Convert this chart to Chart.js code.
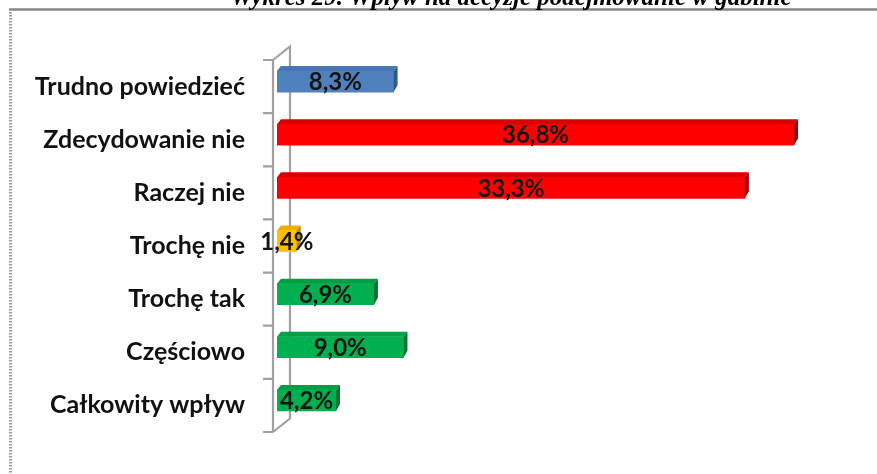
<!DOCTYPE html>
<html><head><meta charset="utf-8">
<script src="https://cdn.jsdelivr.net/npm/chart.js@4/dist/chart.umd.min.js"></script>
<style>html,body{margin:0;padding:0;background:#fff;}canvas{display:block;}</style>
</head><body>
<canvas id="c" width="877" height="474"></canvas>
<script>
const titleText = 'Wykres 29. Wpływ na decyzje podejmowanie w gabinie';
const categories = ['Trudno powiedzieć','Zdecydowanie nie','Raczej nie','Trochę nie','Trochę tak','Częściowo','Całkowity wpływ'];
const values = [8.3, 36.8, 33.3, 1.4, 6.9, 9.0, 4.2];
const valueLabels = ['8,3%','36,8%','33,3%','1,4%','6,9%','9,0%','4,2%'];

const palette = {
  blue:   {front:'#4F81BD', top:'#4677B4', side:'#2F5A8F'},
  red:    {front:'#FF0000', top:'#D80000', side:'#A00000'},
  yellow: {front:'#FFC000', top:'#ECAE00', side:'#B88A00'},
  green:  {front:'#00B050', top:'#009E46', side:'#007633'}
};
const colorKeys = ['blue','red','red','yellow','green','green','green'];

const DEPTH = {dx:4, dy:-5};
const WALL = {dx:17, dy:-13.5, shift:5};

const threeD = {
  id:'threeD',
  beforeDraw(chart){
    const ctx = chart.ctx;
    ctx.save();
    ctx.fillStyle = '#fff';
    ctx.fillRect(0,0,chart.width,chart.height);
    ctx.strokeStyle = '#858585';
    ctx.lineWidth = 2.5;
    ctx.beginPath(); ctx.moveTo(9,9.5); ctx.lineTo(chart.width,9.5); ctx.stroke();
    ctx.strokeStyle = '#9a9a9a';
    ctx.lineWidth = 3;
    ctx.setLineDash([1.5,1.5]);
    ctx.beginPath(); ctx.moveTo(10.5,9); ctx.lineTo(10.5,chart.height); ctx.stroke();
    ctx.setLineDash([]);
    ctx.fillStyle = '#000';
    ctx.font = 'italic bold 25px "Liberation Serif"';
    ctx.textAlign = 'center';
    ctx.textBaseline = 'alphabetic';
    ctx.fillText(titleText, 511, 5);
    ctx.restore();
  },
  beforeDatasetsDraw(chart){
    const ctx = chart.ctx, a = chart.chartArea;
    const fx = a.left - 4, bx = fx + WALL.dx;
    const top = a.top + WALL.shift, bot = a.bottom + WALL.shift;
    ctx.save();
    ctx.strokeStyle = '#a0a0a0';
    ctx.lineWidth = 2.2;
    ctx.beginPath();
    ctx.moveTo(fx, top); ctx.lineTo(fx, bot);
    ctx.moveTo(fx, top); ctx.lineTo(bx, top + WALL.dy);
    ctx.lineTo(bx, bot + WALL.dy);
    ctx.lineTo(fx, bot);
    const n = categories.length;
    const step = (a.bottom - a.top) / n;
    for (let i = 0; i <= n; i++) {
      const y = a.top + i*step + WALL.shift;
      ctx.moveTo(fx - 10, y); ctx.lineTo(fx, y);
    }
    ctx.stroke();
    ctx.restore();
  },
  afterDatasetsDraw(chart){
    const ctx = chart.ctx;
    const meta = chart.getDatasetMeta(0);
    ctx.save();
    meta.data.forEach((bar, i) => {
      const p = palette[colorKeys[i]];
      const {x, y, base, height} = bar.getProps(['x','y','base','height'], true);
      const t = y - height/2, b = y + height/2;
      ctx.fillStyle = p.top;
      ctx.beginPath();
      ctx.moveTo(base, t); ctx.lineTo(x, t); ctx.lineTo(x + DEPTH.dx, t + DEPTH.dy); ctx.lineTo(base + DEPTH.dx, t + DEPTH.dy);
      ctx.closePath(); ctx.fill();
      ctx.fillStyle = p.side;
      ctx.beginPath();
      ctx.moveTo(x, t); ctx.lineTo(x + DEPTH.dx, t + DEPTH.dy); ctx.lineTo(x + DEPTH.dx, b + DEPTH.dy - 2); ctx.lineTo(x, b);
      ctx.closePath(); ctx.fill();
    });
    ctx.fillStyle = '#141414';
    ctx.font = 'bold 24px Lato';
    ctx.textAlign = 'center';
    ctx.textBaseline = 'middle';
    meta.data.forEach((bar, i) => {
      const {x, y, base} = bar.getProps(['x','y','base'], true);
      ctx.fillText(valueLabels[i], (base + x)/2, y + 1);
    });
    ctx.restore();
  }
};

new Chart(document.getElementById('c'), {
  type:'bar',
  data:{
    labels: categories,
    datasets:[{
      data: values,
      backgroundColor: colorKeys.map(k => palette[k].front),
      borderWidth: 0,
      barThickness: 21
    }]
  },
  options:{
    indexAxis:'y',
    responsive:false,
    devicePixelRatio:1,
    animation:false,
    layout:{padding:{top:55, bottom:33, right:38, left:0}},
    plugins:{legend:{display:false}, tooltip:{enabled:false}, title:{display:false}},
    scales:{
      x:{display:false, min:0, max:40},
      y:{
        grid:{display:false, drawTicks:false},
        border:{display:false},
        ticks:{color:'#111', font:{family:'Lato', size:25, weight:'bold'}, padding:32, labelOffset:5},
        afterFit(s){ s.width = 277; }
      }
    }
  },
  plugins:[threeD]
});
</script>
</body></html>
